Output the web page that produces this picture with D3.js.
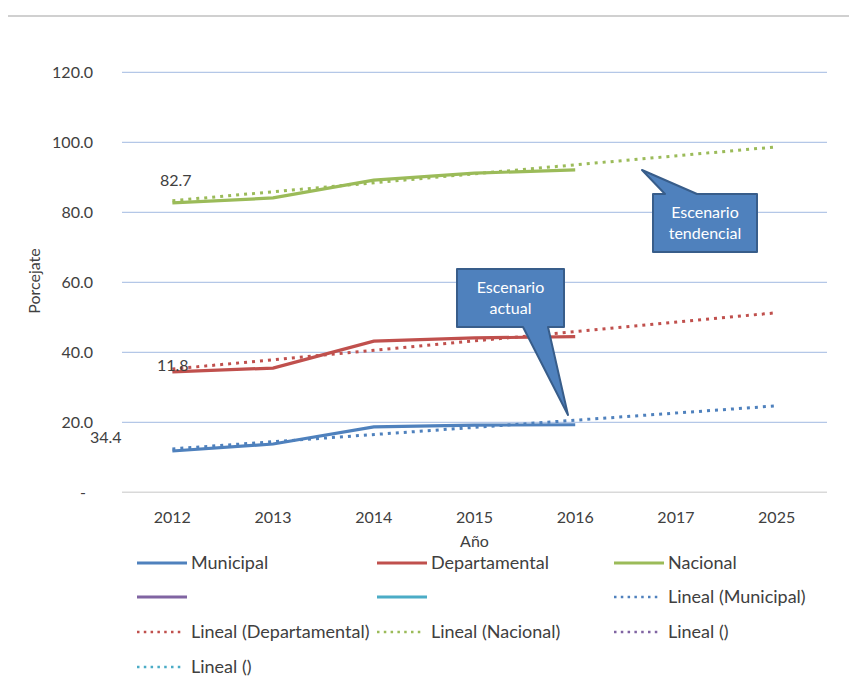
<!DOCTYPE html>
<meta charset="utf-8">
<style>
    body { margin: 0; background: #fff; }
    svg text { font-family: Lato, "Open Sans", sans-serif; fill: #404040; }
    .grid line { stroke: #b4c7e7; stroke-width: 1.2px; }
    .callout text { fill: #fff; }
</style>
<svg width="849" height="685"></svg>
<script src="https://cdn.jsdelivr.net/npm/d3@7"></script>
<script>

    var years = ["2012", "2013", "2014", "2015", "2016", "2017", "2025"];
    var obsYears = ["2012", "2013", "2014", "2015", "2016"];
    var municipal = [11.8, 13.8, 18.7, 19.2, 19.3];
    var departamental = [34.4, 35.5, 43.2, 44.1, 44.5];
    var nacional = [82.7, 84.1, 89.2, 91.2, 92.1];
    // trend line ends (2012, 2025)
    var trendYears = ["2012", "2025"];
    var trendMunicipal = [12.4, 24.7];
    var trendDepartamental = [35.2, 51.3];
    var trendNacional = [83.3, 98.7];
    var yTicks = [0, 20, 40, 60, 80, 100, 120];

    var svg = d3.select("svg");

    var x = d3.scaleBand().domain(years).range([122, 827]);
    var y = d3.scaleLinear().domain([0, 120]).range([492.3, 72.3]);
    var cx = function(yr) { return x(yr) + x.bandwidth() / 2; };

    // frame line on top
    svg.append("line")
            .attr("x1", 8).attr("x2", 849).attr("y1", 16).attr("y2", 16)
            .attr("stroke", "#d0d0d0").attr("stroke-width", 2);

    // gridlines
    svg.append("g")
            .attr("class", "grid")
            .selectAll("line")
            .data(yTicks.slice(1))
            .enter().append("line")
            .attr("x1", 122).attr("x2", 827)
            .attr("y1", function(d) { return y(d); })
            .attr("y2", function(d) { return y(d); });

    svg.append("line")
            .attr("x1", 122).attr("x2", 827)
            .attr("y1", y(0)).attr("y2", y(0))
            .attr("stroke", "#d9d9d9").attr("stroke-width", 1.5);

    // y tick labels
    svg.append("g").selectAll("text")
            .data(yTicks)
            .enter().append("text")
            .attr("x", function(d) { return d === 0 ? 86 : 93; })
            .attr("y", function(d) { return y(d); })
            .attr("dy", "0.35em")
            .attr("text-anchor", "end")
            .style("font-size", "16px")
            .text(function(d) { return d === 0 ? "-" : d3.format(".1f")(d); });

    // x tick labels
    svg.append("g").selectAll("text")
            .data(years)
            .enter().append("text")
            .attr("x", cx)
            .attr("y", 517)
            .attr("dy", "0.35em")
            .attr("text-anchor", "middle")
            .style("font-size", "16px")
            .text(function(d) { return d; });

    svg.append("text")
            .attr("x", cx("2015")).attr("y", 541).attr("dy", "0.35em")
            .attr("text-anchor", "middle")
            .style("font-size", "16px")
            .text("Año");

    svg.append("text")
            .attr("transform", "translate(34,281) rotate(-90)")
            .attr("dy", "0.35em")
            .attr("text-anchor", "middle")
            .style("font-size", "16px")
            .text("Porcejate");

    var colors = {
        mun: "#4f81bd", dep: "#c0504d", nac: "#9bbb59",
        pur: "#8064a2", cya: "#4bacc6"
    };

    var line = d3.line()
            .x(function(d) { return cx(d[0]); })
            .y(function(d) { return y(d[1]); });

    function series(yrs, vals) {
        return yrs.map(function(yr, i) { return [yr, vals[i]]; });
    }

    // trend lines (dotted)
    [[trendMunicipal, colors.mun], [trendDepartamental, colors.dep], [trendNacional, colors.nac]]
            .forEach(function(t) {
                svg.append("path")
                        .attr("d", line(series(trendYears, t[0])))
                        .attr("fill", "none")
                        .attr("stroke", t[1])
                        .attr("stroke-width", 3)
                        .attr("stroke-dasharray", "3,5");
            });

    // data lines
    [[municipal, colors.mun], [departamental, colors.dep], [nacional, colors.nac]]
            .forEach(function(s) {
                svg.append("path")
                        .attr("d", line(series(obsYears, s[0])))
                        .attr("fill", "none")
                        .attr("stroke", s[1])
                        .attr("stroke-width", 3.2);
            });

    // data labels (as shown on the chart)
    var dataLabels = [["82.7", 160, 180], ["11.8", 157, 365], ["34.4", 90, 437]];
    svg.append("g").selectAll("text")
            .data(dataLabels)
            .enter().append("text")
            .attr("x", function(d) { return d[1]; })
            .attr("y", function(d) { return d[2]; })
            .attr("dy", "0.35em")
            .style("font-size", "16px")
            .text(function(d) { return d[0]; });

    // callouts
    function callout(bx, by, bw, bh, base1, base2, tip, side, lines) {
        var g = svg.append("g").attr("class", "callout");
        var p;
        if (side === "top") {
            p = [[bx, by], [base1, by], tip, [base2, by], [bx + bw, by],
                [bx + bw, by + bh], [bx, by + bh]];
        } else {
            p = [[bx, by], [bx + bw, by], [bx + bw, by + bh], [base2, by + bh],
                tip, [base1, by + bh], [bx, by + bh]];
        }
        g.append("path")
                .attr("d", "M" + p.join("L") + "Z")
                .attr("fill", "#4f81bd")
                .attr("stroke", "#385d8a")
                .attr("stroke-width", 2)
                .attr("stroke-linejoin", "round");
        g.selectAll("text")
                .data(lines)
                .enter().append("text")
                .attr("x", bx + bw / 2)
                .attr("y", function(d, i) { return by + bh / 2 + (i - 0.5) * 21; })
                .attr("dy", "0.35em")
                .attr("text-anchor", "middle")
                .style("font-size", "16px")
                .text(function(d) { return d; });
    }

    callout(653, 194, 104, 58, 665, 697, [642, 170], "top", ["Escenario", "tendencial"]);
    callout(457, 269, 107, 58, 523, 548, [568, 415], "bottom", ["Escenario", "actual"]);

    // legend
    var legendItems = [
        ["Municipal", colors.mun, false], ["Departamental", colors.dep, false], ["Nacional", colors.nac, false],
        ["", colors.pur, false], ["", colors.cya, false], ["Lineal (Municipal)", colors.mun, true],
        ["Lineal (Departamental)", colors.dep, true], ["Lineal (Nacional)", colors.nac, true], ["Lineal ()", colors.pur, true],
        ["Lineal ()", colors.cya, true]
    ];
    var colX = [137, 377, 614];
    var rowY = [563, 597, 632, 667];

    var leg = svg.append("g").selectAll("g")
            .data(legendItems)
            .enter().append("g")
            .attr("transform", function(d, i) {
                return "translate(" + colX[i % 3] + "," + rowY[Math.floor(i / 3)] + ")";
            });

    leg.append("line")
            .attr("x1", 0).attr("x2", function(d) { return d[2] ? 47 : 50; })
            .attr("y1", 0).attr("y2", 0)
            .attr("stroke", function(d) { return d[1]; })
            .attr("stroke-width", function(d) { return d[2] ? 2.5 : 3.2; })
            .attr("stroke-dasharray", function(d) { return d[2] ? "2.5,4.3" : null; });

    leg.append("text")
            .attr("x", 54)
            .attr("dy", "0.35em")
            .style("font-size", "18px")
            .text(function(d) { return d[0]; });

</script>
